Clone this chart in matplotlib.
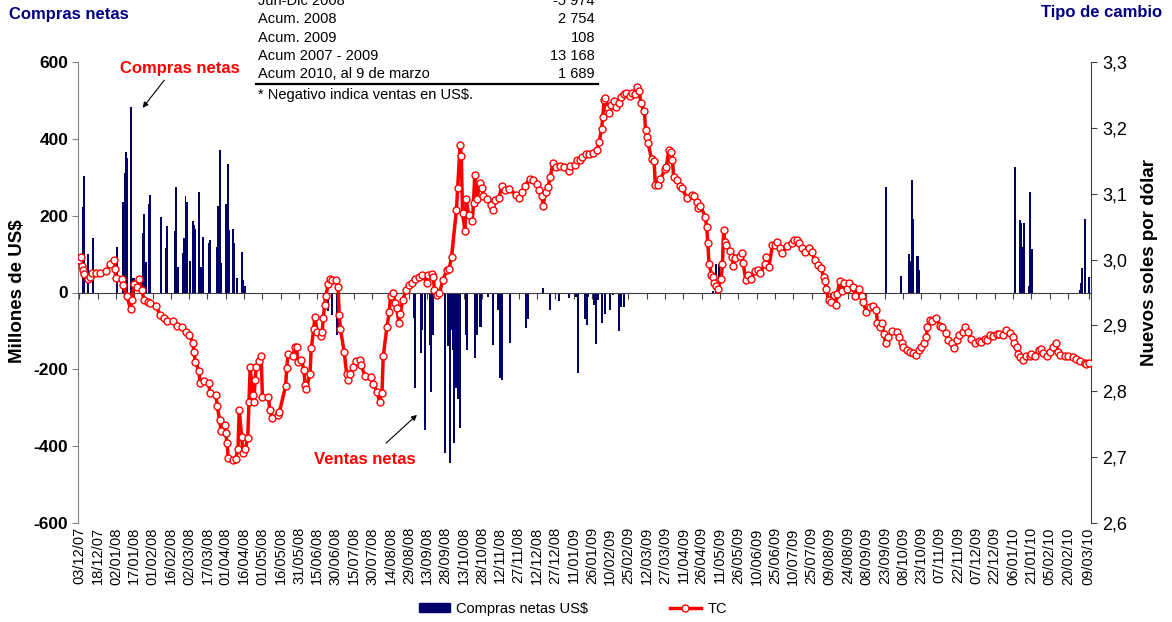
""" net FX purchases (bars) and exchange rate (line), Dec 2007 - Mar 2010 """
import numpy as np
import matplotlib
matplotlib.use("Agg")
from matplotlib import pyplot as plt
from matplotlib import dates as mdates
from matplotlib.lines import Line2D
from matplotlib.patches import Patch

plt.rcParams["font.family"] = ["Liberation Sans", "DejaVu Sans"]

# day 0 of the series
START = np.datetime64("2007-12-03")

# exchange rate (TC): days since 03/12/2007 and value
tc_day = [
    0, 1, 2, 3, 4, 7, 9, 10, 14, 17, 22, 25, 28, 29, 30, 35, 36, 39, 42, 43,
    45, 47, 49, 51, 53, 56, 58, 63, 66, 69, 72, 77, 80, 84, 87, 90, 93, 94, 95, 98,
    99, 102, 106, 107, 112, 113, 115, 116, 119, 120, 121, 122, 126, 128, 130, 131, 133, 134, 136, 138,
    139, 140, 142, 143, 144, 145, 147, 149, 150, 155, 156, 158, 163, 164, 169, 170, 171, 175, 177, 178,
    179, 182, 184, 185, 186, 189, 190, 192, 193, 195, 198, 199, 200, 201, 202, 204, 205, 207, 210, 212,
    213, 214, 217, 219, 220, 222, 224, 227, 230, 231, 234, 239, 241, 244, 246, 248, 249, 252, 254, 255,
    257, 259, 260, 262, 263, 265, 268, 270, 273, 275, 278, 281, 285, 286, 289, 290, 291, 293, 295, 298,
    301, 303, 305, 309, 310, 312, 313, 314, 316, 317, 319, 322, 323, 324, 326, 328, 330, 331, 334, 337,
    339, 341, 344, 346, 349, 352, 358, 360, 363, 365, 369, 372, 375, 377, 379, 380, 382, 384, 386, 388,
    391, 394, 397, 401, 402, 406, 408, 410, 412, 415, 418, 421, 424, 426, 428, 429, 430, 431, 433, 434,
    436, 438, 440, 442, 444, 446, 448, 451, 453, 455, 457, 459, 460, 463, 464, 465, 466, 469, 471, 472,
    474, 476, 480, 481, 483, 485, 486, 487, 490, 492, 494, 498, 502, 504, 506, 507, 509, 513, 514, 515,
    516, 518, 519, 520, 522, 523, 526, 527, 528, 529, 530, 533, 535, 536, 537, 541, 543, 544, 546, 548,
    550, 554, 556, 558, 562, 563, 565, 568, 570, 572, 574, 576, 580, 584, 586, 588, 590, 592, 595, 598,
    600, 603, 605, 608, 610, 611, 612, 614, 616, 618, 620, 621, 623, 625, 627, 629, 631, 634, 636, 639,
    641, 642, 645, 648, 650, 653, 654, 656, 658, 659, 661, 663, 666, 670, 672, 674, 675, 678, 681, 683,
    686, 688, 690, 692, 694, 695, 697, 699, 702, 705, 707, 710, 712, 715, 717, 719, 721, 724, 726, 728,
    731, 734, 737, 739, 742, 744, 746, 749, 752, 754, 757, 759, 763, 765, 766, 768, 769, 771, 773, 776,
    779, 780, 783, 786, 788, 790, 793, 795, 798, 800, 802, 804, 808, 810, 814, 817, 820, 824, 825, 827,
]
tc_value = [
    3.000, 3.004, 2.990, 2.984, 2.978, 2.970, 2.973, 2.979, 2.980, 2.980, 2.982, 2.994, 2.999, 2.985, 2.972, 2.970, 2.962, 2.944, 2.925, 2.939,
    2.963, 2.959, 2.970, 2.954, 2.939, 2.936, 2.934, 2.929, 2.916, 2.912, 2.906, 2.907, 2.899, 2.898, 2.890, 2.885, 2.874, 2.859, 2.845, 2.831,
    2.812, 2.815, 2.813, 2.797, 2.794, 2.777, 2.756, 2.740, 2.749, 2.736, 2.722, 2.698, 2.696, 2.697, 2.713, 2.772, 2.731, 2.706, 2.712, 2.729,
    2.783, 2.837, 2.794, 2.783, 2.817, 2.837, 2.846, 2.854, 2.792, 2.792, 2.772, 2.759, 2.764, 2.769, 2.808, 2.835, 2.857, 2.854, 2.868, 2.868,
    2.845, 2.848, 2.833, 2.810, 2.804, 2.826, 2.865, 2.894, 2.913, 2.890, 2.884, 2.890, 2.912, 2.931, 2.945, 2.963, 2.970, 2.969, 2.969, 2.959,
    2.916, 2.894, 2.860, 2.827, 2.817, 2.827, 2.837, 2.846, 2.848, 2.840, 2.823, 2.822, 2.811, 2.799, 2.784, 2.797, 2.853, 2.897, 2.921, 2.944,
    2.949, 2.934, 2.926, 2.903, 2.918, 2.939, 2.954, 2.961, 2.964, 2.970, 2.974, 2.977, 2.964, 2.977, 2.978, 2.974, 2.954, 2.946, 2.949, 2.969,
    2.984, 2.985, 3.004, 3.075, 3.108, 3.174, 3.157, 3.070, 3.044, 3.092, 3.068, 3.058, 3.086, 3.128, 3.092, 3.116, 3.108, 3.097, 3.092, 3.083,
    3.076, 3.090, 3.094, 3.111, 3.106, 3.107, 3.098, 3.093, 3.103, 3.112, 3.122, 3.121, 3.115, 3.106, 3.097, 3.081, 3.103, 3.110, 3.126, 3.146,
    3.140, 3.142, 3.140, 3.135, 3.142, 3.144, 3.151, 3.151, 3.155, 3.161, 3.161, 3.162, 3.166, 3.179, 3.199, 3.217, 3.242, 3.246, 3.230, 3.222,
    3.235, 3.241, 3.232, 3.237, 3.247, 3.251, 3.253, 3.248, 3.253, 3.252, 3.262, 3.256, 3.237, 3.225, 3.197, 3.186, 3.177, 3.152, 3.149, 3.113,
    3.113, 3.122, 3.137, 3.140, 3.167, 3.164, 3.151, 3.126, 3.121, 3.112, 3.108, 3.093, 3.098, 3.096, 3.088, 3.078, 3.081, 3.065, 3.050, 3.025,
    2.994, 2.977, 2.974, 2.965, 2.960, 2.956, 2.970, 2.994, 3.045, 3.026, 3.022, 3.013, 3.004, 2.990, 3.002, 3.005, 3.010, 2.995, 2.969, 2.977,
    2.970, 2.983, 2.984, 2.980, 2.994, 3.004, 2.989, 3.022, 3.022, 3.027, 3.017, 3.010, 3.021, 3.025, 3.030, 3.029, 3.025, 3.017, 3.012, 3.017,
    3.011, 2.999, 2.992, 2.987, 2.974, 2.967, 2.955, 2.938, 2.936, 2.946, 2.931, 2.947, 2.967, 2.953, 2.965, 2.955, 2.964, 2.958, 2.944, 2.955,
    2.945, 2.936, 2.921, 2.928, 2.929, 2.923, 2.904, 2.898, 2.903, 2.887, 2.873, 2.883, 2.892, 2.890, 2.882, 2.873, 2.868, 2.863, 2.859, 2.858,
    2.855, 2.862, 2.868, 2.873, 2.883, 2.898, 2.908, 2.906, 2.912, 2.899, 2.897, 2.888, 2.878, 2.873, 2.865, 2.878, 2.885, 2.890, 2.897, 2.890,
    2.880, 2.873, 2.877, 2.875, 2.880, 2.878, 2.885, 2.884, 2.887, 2.887, 2.885, 2.893, 2.888, 2.883, 2.873, 2.868, 2.857, 2.852, 2.848, 2.853,
    2.854, 2.857, 2.853, 2.862, 2.864, 2.858, 2.853, 2.860, 2.868, 2.873, 2.860, 2.855, 2.853, 2.854, 2.852, 2.849, 2.846, 2.843, 2.842, 2.843,
]

# net purchases (millions of US$), negative = net sales
bar_day = [
    3, 4, 7, 11, 31, 36, 37, 38, 39, 42, 44, 45, 52, 53, 55, 57, 58, 67, 71, 72,
    78, 79, 81, 85, 86, 87, 88, 91, 93, 94, 95, 98, 100, 101, 106, 107, 113, 114, 115, 116,
    120, 122, 123, 126, 127, 129, 133, 134, 136,
    204, 207, 211, 213, 274, 275, 280, 281, 283, 287, 288, 290, 300, 302, 304, 305, 306, 307, 309, 310,
    312, 317, 318, 324, 326, 328, 329, 335, 339, 343, 345, 346, 353, 366, 368, 380, 386, 393, 401, 407,
    409, 414, 416, 417, 422, 423, 425, 428, 431, 435, 437, 442, 444, 446,
    519, 522, 524, 661, 673, 680, 681, 682, 683, 686, 687, 688,
    767, 771, 772, 773, 774, 778, 779, 781, 820, 821, 822, 824, 827,
]
bar_value = [
    223, 303, 100, 141, 118, 236, 312, 367, 351, 484, 37, 37, 156, 204, 80, 230, 254, 197, 115, 173,
    161, 275, 67, 102, 141, 251, 236, 83, 187, 176, 164, 262, 67, 145, 130, 137, 119, 225, 371, 76,
    230, 334, 163, 164, 130, 37, 106, 33, 17,
    -48, -58, -110, -97, -67, -249, -158, -98, -358, -137, -258, -111, -417, -140, -443, -98, -150, -391, -249, -278,
    -353, -111, -150, -171, -111, -89, -89, -11, -137, -46, -223, -227, -131, -93, -70, 11, -46, -21, -15, -11,
    -210, -70, -85, -11, -33, -134, -20, -80, -56, -46, -7, -99, -37, -37,
    4, 74, 74, 274, 43, 100, 83, 293, 191, 95, 95, 59,
    326, 189, 180, 119, 180, 17, 262, 112, 7, 24, 63, 191, 40,
]

# summary box
table_labels = ["Jun-Dic 2008", "Acum. 2008", "Acum. 2009", "Acum 2007 - 2009", "Acum 2010, al 9 de marzo"]
table_values = ["-5 974", "2 754", "108", "13 168", "1 689"]

# x tick days (every 15 days plus the last day)
tick_day = list(range(0, 811, 15)) + [827]

left_ticks = [-600, -400, -200, 0, 200, 400, 600]
right_ticks = [2.6, 2.7, 2.8, 2.9, 3.0, 3.1, 3.2, 3.3]

# colors
NAVY_BAR = "#000066"
NAVY_TXT = "#000080"
RED = "#ff0000"

W, H = 1172, 622

def fx(px):
    return px / W

def fy(py):
    return 1 - py / H

fig = plt.figure(figsize=(W / 100, H / 100), dpi=100)
ax = fig.add_axes([fx(78), fy(523), fx(1091) - fx(78), fy(62) - fy(523)])

# bars
bar_x = mdates.date2num(START + np.array(bar_day, dtype="timedelta64[D]"))
ax.bar(bar_x, bar_value, width=1.6, color=NAVY_BAR, linewidth=0, zorder=2)

x0 = mdates.date2num(START)
ax.set_xlim(x0 - 1.1, x0 + 829)
ax.set_ylim(-600, 600)
ax.set_yticks(left_ticks)
ax.set_yticklabels([str(v) for v in left_ticks], fontweight="bold")
ax.tick_params(axis="y", length=4, color="#808080", labelsize=12.5, pad=3)

# category axis crosses at zero
tick_dates = START + np.array(tick_day, dtype="timedelta64[D]")
tick_x = mdates.date2num(tick_dates)
ax.spines["bottom"].set_position(("data", 0))
ax.spines["bottom"].set_color("#404040")
ax.spines["bottom"].set_linewidth(0.8)
ax.spines["left"].set_color("#808080")
ax.spines["top"].set_visible(False)
ax.spines["right"].set_visible(False)
ax.set_xticks(tick_x)
ax.tick_params(axis="x", direction="out", length=4, color="#404040", labelbottom=False)

# date labels at the bottom
tick_labels = []
for s in np.datetime_as_string(tick_dates):
    tick_labels.append(s[8:10] + "/" + s[5:7] + "/" + s[2:4])
sec = ax.secondary_xaxis("bottom")
sec.set_xticks(tick_x, labels=tick_labels)
sec.tick_params(length=0, labelsize=10.5, labelrotation=90, pad=3)
sec.spines["bottom"].set_visible(False)

# exchange rate line
ax2 = ax.twinx()
tc_x = mdates.date2num(START + np.array(tc_day, dtype="timedelta64[D]"))
ax2.plot(tc_x, tc_value, color=RED, linewidth=2.5, marker="o", markersize=5,
         markerfacecolor="white", markeredgecolor=RED, markeredgewidth=1.0, zorder=3)
ax2.set_ylim(2.6, 3.3)
ax2.set_yticks(right_ticks)
ax2.set_yticklabels([f"{v:.1f}".replace(".", ",") for v in right_ticks])
ax2.tick_params(axis="y", length=4, color="#404040", labelsize=13, pad=4)
for side in ["top", "left", "bottom"]:
    ax2.spines[side].set_visible(False)
ax2.spines["right"].set_color("#404040")

# titles and axis names
fig.text(fx(9), fy(15), "Compras netas", color=NAVY_TXT, fontweight="bold", fontsize=12,
         ha="left", va="center")
fig.text(fx(1162), fy(13), "Tipo de cambio", color=NAVY_TXT, fontweight="bold", fontsize=12,
         ha="right", va="center")
fig.text(fx(18), fy(291), "Millones de US$", rotation=90, fontweight="bold", fontsize=13.5,
         ha="center", va="center")
fig.text(fx(1150), fy(262), "Nuevos soles por dólar", rotation=90, fontweight="bold", fontsize=13.5,
         ha="center", va="center")

# summary box
for i, (lab, val) in enumerate(zip(table_labels, table_values)):
    _y = 0.9 + 18.4 * i
    fig.text(fx(258), fy(_y), lab, fontsize=10.5, ha="left", va="center")
    fig.text(fx(595), fy(_y), val, fontsize=10.5, ha="right", va="center")
fig.add_artist(Line2D([fx(256), fx(598)], [fy(84), fy(84)], color="black", linewidth=1.6))
fig.text(fx(258), fy(95), "* Negativo indica ventas en US$.", fontsize=10.5, ha="left", va="center")

# callouts
fig.text(fx(180), fy(68), "Compras netas", color=RED, fontweight="bold", fontsize=12,
         ha="center", va="center")
ax.annotate("", xy=(fx(141), fy(110)), xytext=(fx(166), fy(78)),
            xycoords="figure fraction", textcoords="figure fraction",
            arrowprops=dict(arrowstyle="-|>", color="black", linewidth=0.8, mutation_scale=8))
fig.text(fx(365), fy(460), "Ventas netas", color=RED, fontweight="bold", fontsize=12,
         ha="center", va="center")
ax.annotate("", xy=(fx(419), fy(413)), xytext=(fx(384), fy(445)),
            xycoords="figure fraction", textcoords="figure fraction",
            arrowprops=dict(arrowstyle="-|>", color="black", linewidth=0.8, mutation_scale=8))

# legend
handles = [
    Patch(facecolor=NAVY_BAR, edgecolor=NAVY_BAR),
    Line2D([], [], color=RED, linewidth=2.5, marker="o", markersize=5,
           markerfacecolor="white", markeredgecolor=RED, markeredgewidth=1.0),
]
fig.legend(handles, ["Compras netas US$", "TC"], loc="center", bbox_to_anchor=(fx(573), fy(609)),
           ncol=2, frameon=False, fontsize=10.5, handlelength=2.1, handleheight=0.55,
           columnspacing=5.6, handletextpad=0.45)

fig.savefig("out.png", dpi=100)
